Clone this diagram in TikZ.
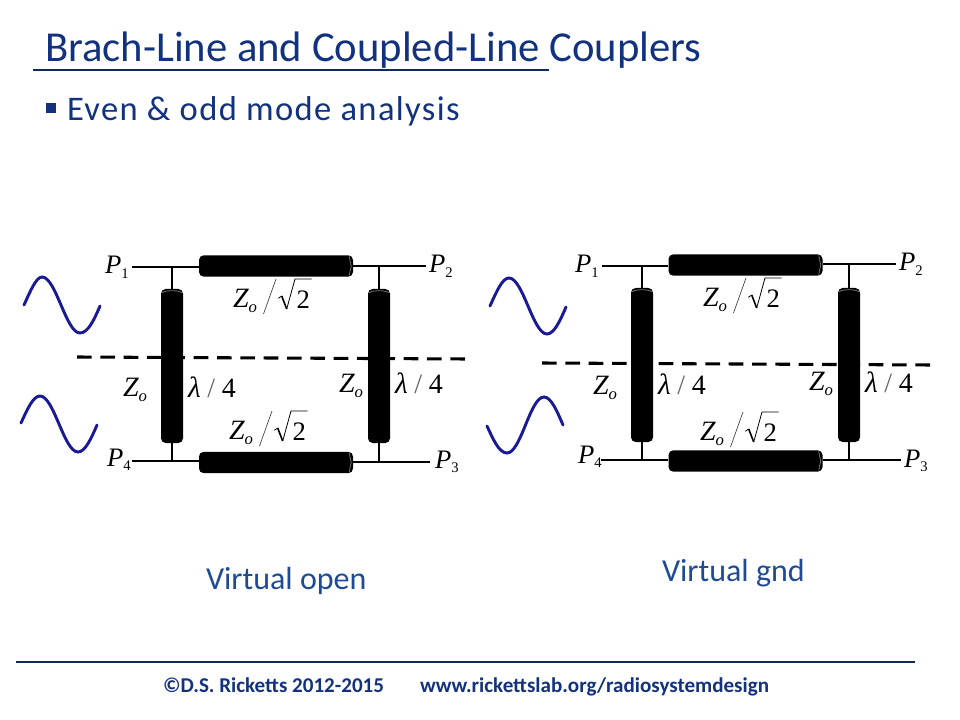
\documentclass[tikz,border=0pt]{standalone}
\usepackage{fontspec}
\setmainfont{Carlito}
\newfontfamily\tms{Liberation Serif}
\definecolor{ttl}{HTML}{12327F}
\definecolor{bar}{HTML}{0F2B5E}
\definecolor{wave}{HTML}{1A1A96}
\definecolor{vtxt}{HTML}{1F4A96}
\newcommand{\fs}[1]{\fontsize{#1}{#1}\selectfont}
\newcommand{\PP}[1]{{\tms\fs{20}\itshape P\raisebox{-3.5pt}{\fs{11}\upshape #1}}}
\newcommand{\ZZ}{{\tms\fs{21}\itshape Z\raisebox{-4pt}{\fs{12.5}o}}}
\newcommand{\LL}{{\tms\fs{22}\itshape λ\kern5pt\fs{21}\upshape{\color{black!60}/}\kern5pt 4}}
\newcommand{\zq}[3]{%
  \begin{scope}[shift={(#2,#3)}]
    \node[lab] (#1z) at (-43,28) {\ZZ};
    \coordinate (#1a) at (0,0); \coordinate (#1b) at (-12.5,35);
    \draw[slash] (#1a) -- (#1b);
    \draw[radic] (2.3,19.3) -- (5.7,17);
    \draw[radic,line width=1.2pt] (5.7,17) -- (10.7,30);
    \draw[radic] (10.7,30) -- (19,0) -- (35.7,0);
    \node[lab,font=\tms\fs{20}] (#1t) at (20.5,29) {2};
  \end{scope}}
\begin{document}
\begin{tikzpicture}[x=0.75pt,y=-0.75pt,
  wire/.style={line width=2pt,black},
  dashline/.style={line width=2.3pt,black,dash pattern=on 11pt off 6.5pt},
  wavy/.style={line width=2.2pt,wave,line cap=round},
  hline/.style={fill=black,rounded corners=3.5pt,inner sep=0pt,minimum width=115.5pt,minimum height=16pt},
  vline/.style={fill=black,rounded corners=3.5pt,inner sep=0pt,minimum width=16.5pt,minimum height=115.5pt},
  glint/.style={line width=0.6pt,black!55},
  lab/.style={anchor=base west,inner sep=0pt,outer sep=0pt},
  slash/.style={line width=0.5pt,black!75},
  radic/.style={line width=0.6pt,black,line join=miter}]
\useasboundingbox (0,0) rectangle (960,720);
% heading
\node[lab,text=ttl,font=\fs{32}] (title) at (45,61.5) {Brach-Line and Coupled-Line Couplers};
\coordinate (ula) at (33,70); \coordinate (ulb) at (549,70);
\draw[line width=1.2pt,bar] (ula) -- (ulb);
\node[fill=ttl,inner sep=0pt,minimum size=8pt] (bullet) at (51,108) {};
\node[lab,text=ttl,font=\addfontfeature{LetterSpace=4}\fs{25.9}] (sub) at (67,121) {Even \& odd mode analysis};
% ---------- left circuit
\coordinate (dla) at (77,357); \coordinate (dlb) at (467,359);
\draw[dashline] (dla) -- (dlb);
\node[hline] (lt) at (276,266) {};
\node[hline] (lb) at (276,462.5) {};
\node[vline] (ll) at (172,366) {};
\node[vline] (lr) at (379,366) {};
\coordinate (lp1) at (132,267); \coordinate (lp2) at (426,266);
\coordinate (lp4) at (132,461); \coordinate (lp3) at (430,462);
\coordinate (lj1) at (172,267); \coordinate (lj2) at (379,266);
\coordinate (lj4) at (172,461); \coordinate (lj3) at (379,462);
\draw[wire] (lp1) -- (lp1 -| lt.west);
\draw[wire] (lt.east |- lp2) -- (lp2);
\draw[wire] (lp4) -- (lp4 -| lb.west);
\draw[wire] (lb.east |- lp3) -- (lp3);
\draw[wire] (lj1) -- (ll.north);
\draw[wire] (lj2) -- (lr.north);
\draw[wire] (ll.south) -- (lj4);
\draw[wire] (lr.south) -- (lj3);
\foreach \n in {lt,lb}{\draw[glint] ([xshift=-3pt,yshift=-1pt]\n.north east) .. controls ([xshift=-1pt,yshift=-5pt]\n.east) and ([xshift=-1pt,yshift=5pt]\n.east) .. ([xshift=-3pt,yshift=1pt]\n.south east);}
\foreach \n in {ll,lr}{\draw[glint] ([xshift=1pt,yshift=-3pt]\n.north west) .. controls ([xshift=-5pt,yshift=-1pt]\n.north) and ([xshift=5pt,yshift=-1pt]\n.north) .. ([xshift=-1pt,yshift=-3pt]\n.north east);}
\draw[wavy] (24,305) .. controls (30,292) and (36,277) .. (42,277) .. controls (56,277) and (66,333) .. (80,333) .. controls (88,333) and (94,320) .. (100,306);
\draw[wavy] (21,423) .. controls (27,410) and (33,396) .. (40,396) .. controls (54,396) and (64,452) .. (78,452) .. controls (85,452) and (91,439) .. (97,425);
\node[lab] (lP1) at (105,274) {\PP{1}};
\node[lab] (lP2) at (429,273) {\PP{2}};
\node[lab] (lP4) at (107,466) {\PP{4}};
\node[lab] (lP3) at (435,468) {\PP{3}};
\zq{lu}{276}{279}
\zq{ld}{272}{411}
\node[lab] (lzc) at (123,396) {\ZZ};
\node[lab] (lla) at (188,397) {\LL};
\node[lab] (lzd) at (339,392) {\ZZ};
\node[lab] (llb) at (395,393) {\LL};
% ---------- right circuit
\coordinate (dra) at (542,363); \coordinate (drb) at (932,365);
\draw[dashline] (dra) -- (drb);
\node[hline] (rt) at (745.5,265) {};
\node[hline] (rb) at (745.5,461) {};
\node[vline] (rl) at (642,365) {};
\node[vline] (rr) at (849,365) {};
\coordinate (rp1) at (602,266); \coordinate (rp2) at (896,264);
\coordinate (rp4) at (601,460); \coordinate (rp3) at (901,460);
\coordinate (rj1) at (642,266); \coordinate (rj2) at (849,264);
\coordinate (rj4) at (642,460); \coordinate (rj3) at (849,460);
\draw[wire] (rp1) -- (rp1 -| rt.west);
\draw[wire] (rt.east |- rp2) -- (rp2);
\draw[wire] (rp4) -- (rp4 -| rb.west);
\draw[wire] (rb.east |- rp3) -- (rp3);
\draw[wire] (rj1) -- (rl.north);
\draw[wire] (rj2) -- (rr.north);
\draw[wire] (rl.south) -- (rj4);
\draw[wire] (rr.south) -- (rj3);
\foreach \n in {rt,rb}{\draw[glint] ([xshift=-3pt,yshift=-1pt]\n.north east) .. controls ([xshift=-1pt,yshift=-5pt]\n.east) and ([xshift=-1pt,yshift=5pt]\n.east) .. ([xshift=-3pt,yshift=1pt]\n.south east);}
\foreach \n in {rl,rr}{\draw[glint] ([xshift=1pt,yshift=-3pt]\n.north west) .. controls ([xshift=-5pt,yshift=-1pt]\n.north) and ([xshift=5pt,yshift=-1pt]\n.north) .. ([xshift=-1pt,yshift=-3pt]\n.north east);}
\draw[wavy] (490,306) .. controls (496,293) and (502,278) .. (509,278) .. controls (523,278) and (533,334) .. (547,334) .. controls (554,334) and (560,321) .. (566,307);
\draw[wavy] (487,426) .. controls (493,439) and (499,453) .. (507,453) .. controls (521,453) and (530,397) .. (544,397) .. controls (551,397) and (557,411) .. (563,425);
\node[lab] (rP1) at (575,273) {\PP{1}};
\node[lab] (rP2) at (899,271) {\PP{2}};
\node[lab] (rP4) at (578,463) {\PP{4}};
\node[lab] (rP3) at (904,467) {\PP{3}};
\zq{ru}{746}{278}
\zq{rd}{743}{412}
\node[lab] (rzc) at (593,394) {\ZZ};
\node[lab] (rla) at (658,394) {\LL};
\node[lab] (rzd) at (809,390) {\ZZ};
\node[lab] (rlb) at (865,392) {\LL};
% captions
\node[lab,text=vtxt,font=\fs{24}] (vo) at (206,589) {Virtual open};
\node[lab,text=vtxt,font=\fs{24}] (vg) at (662,581) {Virtual gnd};
% footer
\coordinate (fa) at (16,662); \coordinate (fb) at (915,662);
\draw[line width=1.2pt,bar] (fa) -- (fb);
\node[lab,text=ttl,font=\bfseries\fs{15.8}] (fl) at (163,692) {©D.S. Ricketts 2012-2015};
\node[lab,text=ttl,font=\bfseries\fs{15.8}] (fr) at (420,692) {www.rickettslab.org/radiosystemdesign};
\end{tikzpicture}
\end{document}
